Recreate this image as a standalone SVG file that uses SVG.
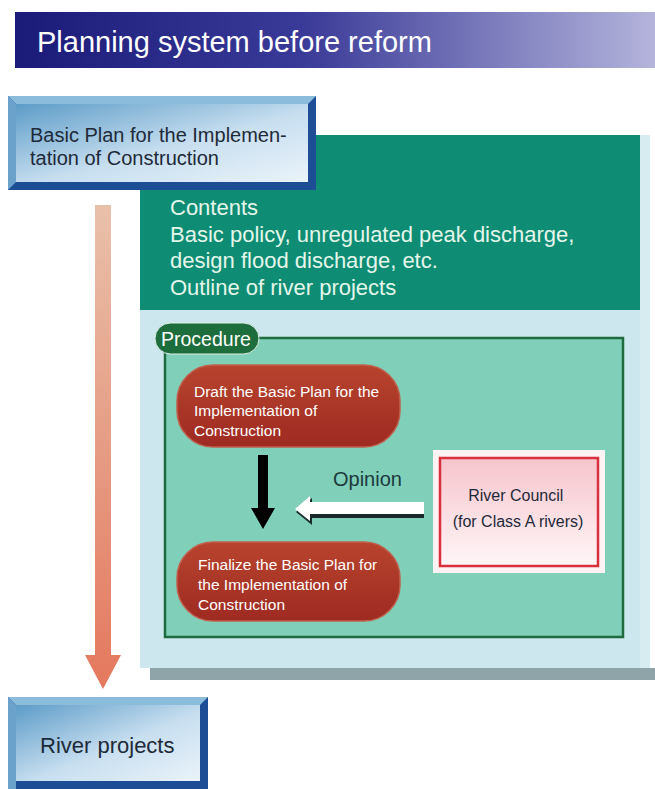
<svg xmlns="http://www.w3.org/2000/svg" width="655" height="789" viewBox="0 0 655 789">
<defs>
<linearGradient id="gTitle" x1="0" y1="0" x2="1" y2="0">
<stop offset="0" stop-color="#1a1a78"/><stop offset="0.45" stop-color="#3a3a98"/><stop offset="1" stop-color="#b4b4dc"/>
</linearGradient>
<linearGradient id="gBlue" x1="0" y1="0" x2="1" y2="1">
<stop offset="0" stop-color="#5d9cc8"/><stop offset="0.55" stop-color="#c8dff0"/><stop offset="1" stop-color="#eaf3fa"/>
</linearGradient>
<linearGradient id="gSalmon" x1="0" y1="0" x2="0" y2="1">
<stop offset="0" stop-color="#e9c0aa"/><stop offset="1" stop-color="#e4785e"/>
</linearGradient>
<linearGradient id="gRed" x1="0" y1="0" x2="0" y2="1">
<stop offset="0" stop-color="#b8442e"/><stop offset="1" stop-color="#9e2a22"/>
</linearGradient>
<linearGradient id="gPink" x1="0" y1="0" x2="0" y2="1">
<stop offset="0" stop-color="#f6c4cc"/><stop offset="1" stop-color="#fff6f8"/>
</linearGradient>
<style>
.t{font-family:"Liberation Sans",Arial,sans-serif}
.dark{fill:#1e2a38}
.wh{fill:#ffffff}
.pill{fill:url(#gRed);stroke:#c0604c;stroke-width:1.5}
.bevTop{fill:#8cbcdc}
.bevLeft{fill:#6aa2cc}
.bevDark{fill:#1d4d94}
</style>
</defs>
<rect width="655" height="789" fill="#ffffff"/>

<g id="title">
<rect x="15" y="12" width="640" height="56" fill="url(#gTitle)"/>
<text class="t" x="37" y="52" font-size="29" fill="#ffffff">Planning system before reform</text>
</g>

<g id="panel">
<rect x="150" y="668" width="505" height="12" fill="#8ea4a8"/>
<rect x="140" y="135" width="510" height="533" fill="#d6ecf0"/>
<rect x="140" y="135" width="500" height="533" fill="#cce7ee"/>
<rect x="140" y="135" width="500" height="175" fill="#0e8c74"/>
<text class="t" font-size="22" fill="#e4f6ea">
<tspan x="170" y="215">Contents</tspan>
<tspan x="170" y="242">Basic policy, unregulated peak discharge,</tspan>
<tspan x="170" y="268">design flood discharge, etc.</tspan>
<tspan x="170" y="295">Outline of river projects</tspan>
</text>
</g>

<g id="procedure">
<rect x="165" y="338" width="458" height="299" fill="#7fcfb9" stroke="#1d6b3e" stroke-width="2.5"/>
<rect x="155" y="323" width="104" height="31" rx="15.5" fill="#1d6e3c" stroke="#dfeee6" stroke-width="1"/>
<text class="t wh" x="161" y="346" font-size="19.5">Procedure</text>
</g>

<g id="basicPlan">
<rect x="8" y="96" width="308" height="94" class="bevDark"/>
<polygon points="8,96 316,96 308,104 16,104" class="bevTop"/>
<polygon points="8,96 16,104 16,182 8,190" class="bevLeft"/>
<rect x="16" y="104" width="292" height="78" fill="url(#gBlue)"/>
<text class="t dark" font-size="20">
<tspan x="30" y="142">Basic Plan for the Implemen-</tspan>
<tspan x="30" y="165">tation of Construction</tspan>
</text>
</g>

<g id="draft">
<rect x="177" y="365" width="223" height="82" rx="36" class="pill"/>
<text class="t wh" font-size="15.5">
<tspan x="194" y="397">Draft the Basic Plan for the</tspan>
<tspan x="194" y="416">Implementation of</tspan>
<tspan x="194" y="436">Construction</tspan>
</text>
</g>

<g id="finalize">
<rect x="177" y="542" width="223" height="79" rx="36" class="pill"/>
<text class="t wh" font-size="15.5">
<tspan x="198" y="570">Finalize the Basic Plan for</tspan>
<tspan x="198" y="590">the Implementation of</tspan>
<tspan x="198" y="610">Construction</tspan>
</text>
</g>

<g id="council">
<rect x="433" y="450" width="172" height="123" fill="#fdf2f4"/>
<rect x="440" y="458" width="158" height="108" fill="url(#gPink)" stroke="#d8303c" stroke-width="2.5"/>
<text class="t dark" font-size="16" text-anchor="middle">
<tspan x="518" y="501">River Council</tspan>
<tspan x="518" y="527">(for Class A rivers)</tspan>
</text>
</g>

<g id="riverProjects">
<rect x="8" y="697" width="200" height="92" class="bevDark"/>
<polygon points="8,697 208,697 200,705 16,705" class="bevTop"/>
<polygon points="8,697 16,705 16,789 8,789" class="bevLeft"/>
<rect x="16" y="705" width="184" height="76" fill="url(#gBlue)"/>
<text class="t dark" x="40" y="753" font-size="22">River projects</text>
</g>

<g id="connectors">
<polygon points="95,205 111,205 111,655 121,655 103,689 85,655 95,655" fill="url(#gSalmon)"/>
<polygon points="258,455 268,455 268,508 275,508 263,529 251,508 258,508" fill="#000000"/>
<polygon points="424,505 312,505 312,498 296,512 312,525 312,518 424,518" fill="#1a2a2a"/>
<polygon points="424,502 310,502 310,496 295,509 310,521 310,514 424,514" fill="#ffffff"/>
<text class="t" x="333" y="486" font-size="20" fill="#1c3a3c">Opinion</text>
</g>
</svg>
